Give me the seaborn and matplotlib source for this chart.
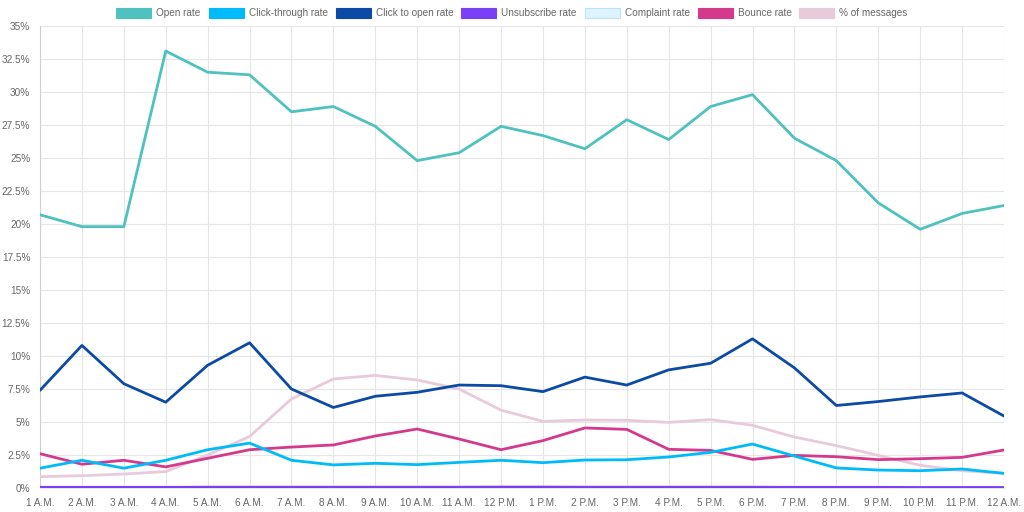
import numpy as np
import pandas as pd
import matplotlib.pyplot as plt
import seaborn as sns
from matplotlib.patches import Patch

hours = ["1 A.M.", "2 A.M.", "3 A.M.", "4 A.M.", "5 A.M.", "6 A.M.", "7 A.M.", "8 A.M.",
         "9 A.M.", "10 A.M.", "11 A.M.", "12 P.M.", "1 P.M.", "2 P.M.", "3 P.M.", "4 P.M.",
         "5 P.M.", "6 P.M.", "7 P.M.", "8 P.M.", "9 P.M.", "10 P.M.", "11 P.M.", "12 A.M."]

open_rate = [20.7, 19.8, 19.8, 33.1, 31.5, 31.3, 28.5, 28.9, 27.4, 24.8, 25.4, 27.4,
             26.7, 25.7, 27.9, 26.4, 28.9, 29.8, 26.5, 24.8, 21.6, 19.6, 20.8, 21.4]
click_through = [1.5, 2.1, 1.5, 2.1, 2.9, 3.4, 2.1, 1.75, 1.87, 1.77, 1.94, 2.1,
                 1.92, 2.12, 2.14, 2.35, 2.7, 3.33, 2.42, 1.52, 1.36, 1.31, 1.44, 1.11]
click_to_open = [7.4, 10.8, 7.9, 6.5, 9.3, 11.0, 7.5, 6.1, 6.95, 7.25, 7.8, 7.75,
                 7.3, 8.4, 7.8, 8.95, 9.45, 11.3, 9.1, 6.25, 6.55, 6.9, 7.2, 5.45]
unsubscribe = [0.05, 0.05, 0.05, 0.05, 0.06, 0.06, 0.06, 0.06, 0.06, 0.06, 0.06, 0.07,
               0.07, 0.06, 0.06, 0.06, 0.06, 0.06, 0.05, 0.05, 0.05, 0.04, 0.04, 0.04]
complaint = [0.01] * 24
bounce = [2.6, 1.8, 2.1, 1.6, 2.25, 2.9, 3.1, 3.26, 3.94, 4.47, 3.71, 2.9,
          3.59, 4.55, 4.44, 2.93, 2.85, 2.17, 2.47, 2.37, 2.15, 2.22, 2.32, 2.88]
pct_messages = [0.86, 0.93, 1.06, 1.24, 2.5, 3.9, 6.75, 8.26, 8.53, 8.18, 7.5, 5.9,
                5.05, 5.15, 5.13, 4.97, 5.18, 4.75, 3.86, 3.21, 2.47, 1.72, 1.31, 1.11]

series = {
    "Open rate": open_rate,
    "Click-through rate": click_through,
    "Click to open rate": click_to_open,
    "Unsubscribe rate": unsubscribe,
    "Complaint rate": complaint,
    "Bounce rate": bounce,
    "% of messages": pct_messages,
}
colors = {
    "Open rate": "#4fc1bf",
    "Click-through rate": "#00bbf9",
    "Click to open rate": "#0b4aa5",
    "Unsubscribe rate": "#7b3ff6",
    "Complaint rate": "#dff3ff",
    "Bounce rate": "#d4398c",
    "% of messages": "#e8cadb",
}

rows = []
for name, vals in series.items():
    for i, v in enumerate(vals):
        rows.append({"hour": i, "series": name, "value": v})
df = pd.DataFrame(rows)

sns.set_style("white")
plt.rcParams["font.family"] = ["Liberation Sans", "DejaVu Sans"]

fig = plt.figure(figsize=(10.24, 5.12), dpi=100)
ax = fig.add_axes([40 / 1024, 1 - 488 / 512, 964 / 1024, 462 / 512])

grid_c = "#e6e6e6"
fs = 7.2
names = list(series.keys())
# first dataset drawn on top, like the original
for z, name in enumerate(reversed(names)):
    sns.lineplot(data=df[df["series"] == name], x="hour", y="value", color=colors[name],
                 linewidth=2.0, ax=ax, zorder=3 + z, legend=False,
                 solid_joinstyle="round", solid_capstyle="round")

ax.set_xlim(0, len(hours) - 1)
ax.set_ylim(0, 35)
ax.set_xticks(range(len(hours)))
ax.set_xticklabels(hours)
yt = np.arange(0, 35.01, 2.5)
ax.set_yticks(yt)
ax.set_yticklabels([f"{v:g}%" for v in yt])
ax.set_xlabel("")
ax.set_ylabel("")
ax.grid(True, color=grid_c, linewidth=0.8)
ax.set_axisbelow(True)
ax.tick_params(axis="both", colors=grid_c, labelcolor="#666666", labelsize=fs,
               length=5, width=0.8, pad=2)
for side in ["top", "right"]:
    ax.spines[side].set_visible(False)
ax.spines["left"].set_color("#cfcfcf")
ax.spines["bottom"].set_color(grid_c)
ax.spines["left"].set_linewidth(0.8)
ax.spines["bottom"].set_linewidth(0.8)

handles = []
for name in names:
    edge = "#b8e4fb" if name == "Complaint rate" else colors[name]
    handles.append(Patch(facecolor=colors[name], edgecolor=edge, linewidth=0.8, label=name))
fig.legend(handles=handles, loc="center", bbox_to_anchor=(0.5, 1 - 13 / 512), ncol=7,
           frameon=False, fontsize=fs, handlelength=3.5, handleheight=1.2,
           handletextpad=0.5, columnspacing=0.8, labelcolor="#666666",
           borderpad=0, borderaxespad=0)

fig.savefig("out.png", dpi=100)
